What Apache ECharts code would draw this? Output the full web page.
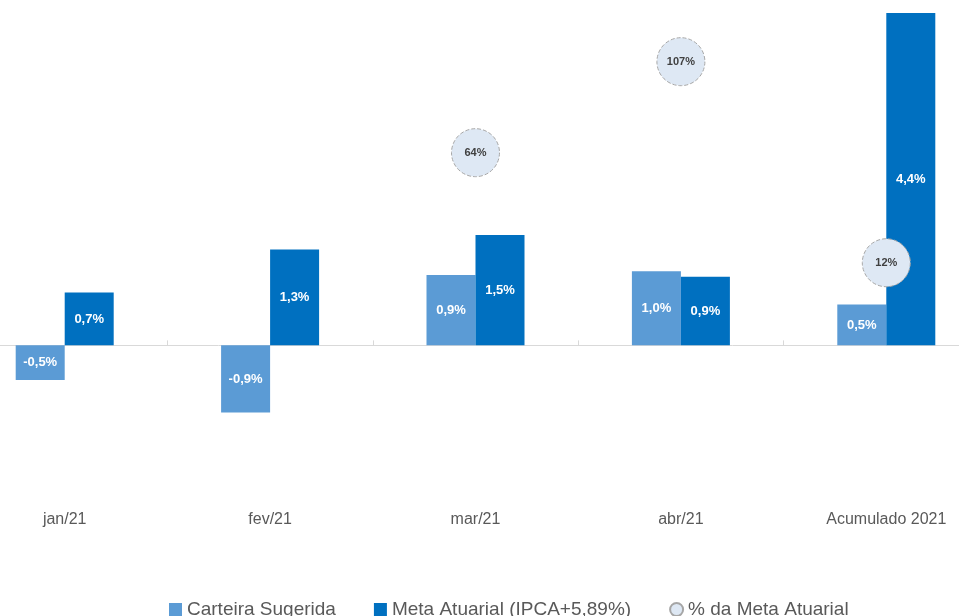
<!DOCTYPE html>
<html lang="pt">
<head>
    <meta charset="UTF-8">
    <title>Carteira x Meta Atuarial</title>
    <script src="https://cdn.jsdelivr.net/npm/echarts@6/dist/echarts.min.js"></script>
    <style>
        html, body { margin: 0; padding: 0; background: #fff; overflow: hidden; }
    </style>
</head>
<body>
<!-- o grafico original esta cortado nas laterais -->
<div id="chart_bar" style="position: absolute; left: -38px; top: 0; width: 1027px; height: 616px"></div>
<script>
    // dados
    var categorias = ['jan/21', 'fev/21', 'mar/21', 'abr/21', 'Acumulado 2021'];
    var carteira = [-0.46, -0.89, 0.93, 0.98, 0.54];
    var meta = [0.70, 1.27, 1.46, 0.91, 4.40];
    var pctMeta = ['-', '-', 64, 107, 12];

    var fonte = 'Liberation Sans';

    function pct(p) {
        return p.value.toFixed(1).replace('.', ',') + '%';
    }

    var option = {
        animation: false,
        textStyle: { fontFamily: fonte },
        grid: {
            left: 0,
            right: 0,
            top: 13,
            bottom: 112
        },
        legend: {
            top: 595,
            left: 202,
            itemGap: 38,
            itemWidth: 13,
            itemHeight: 13,
            textStyle: { fontSize: 19, color: '#595959', fontFamily: fonte },
            data: [
                { name: 'Carteira Sugerida', icon: 'rect' },
                { name: 'Meta Atuarial (IPCA+5,89%)', icon: 'rect' },
                { name: '% da Meta Atuarial', icon: 'circle' }
            ]
        },
        xAxis: [
            {
                type: 'category',
                data: categorias,
                position: 'bottom',
                axisLine: { show: false, onZero: false },
                axisTick: { show: false },
                axisLabel: { color: '#595959', fontSize: 16, margin: 8 }
            },
            {
                type: 'category',
                data: categorias,
                position: 'top',
                axisLine: { onZero: true, onZeroAxisIndex: 0, lineStyle: { color: '#d9d9d9', width: 1 } },
                axisTick: { show: true, length: 5, lineStyle: { color: '#d9d9d9' } },
                axisLabel: { show: false }
            }
        ],
        yAxis: [
            { type: 'value', min: -2.1, max: 4.4, show: false, splitLine: { show: false } },
            { type: 'value', min: -102, max: 130, show: false, splitLine: { show: false } }
        ],
        series: [
            {
                name: 'Carteira Sugerida',
                type: 'bar',
                barWidth: 49,
                barGap: '0%',
                data: carteira,
                itemStyle: { color: '#5b9bd5' },
                label: {
                    show: true, position: 'inside', color: '#fff',
                    fontWeight: 'bold', fontSize: 13, formatter: pct
                }
            },
            {
                name: 'Meta Atuarial (IPCA+5,89%)',
                type: 'bar',
                barWidth: 49,
                barGap: '0%',
                data: meta,
                itemStyle: { color: '#0070c0' },
                label: {
                    show: true, position: 'inside', color: '#fff',
                    fontWeight: 'bold', fontSize: 13, formatter: pct
                }
            },
            {
                name: '% da Meta Atuarial',
                type: 'scatter',
                yAxisIndex: 1,
                symbolSize: 48,
                data: pctMeta,
                z: 5,
                itemStyle: {
                    color: '#dee8f4',
                    borderColor: '#a6a6a6',
                    borderWidth: 1,
                    borderType: 'dashed',
                    opacity: 1
                },
                label: {
                    show: true, position: 'inside', color: '#404040',
                    fontWeight: 'bold', fontSize: 11,
                    formatter: function (p) { return p.value + '%'; }
                }
            }
        ]
    };

    var chart_bar = echarts.init(document.getElementById('chart_bar'));
    chart_bar.setOption(option);
</script>
</body>
</html>
